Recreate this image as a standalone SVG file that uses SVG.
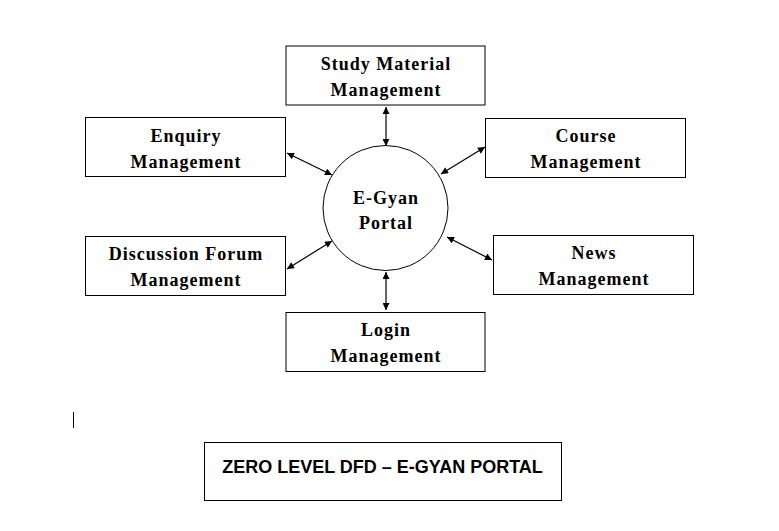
<svg xmlns="http://www.w3.org/2000/svg" width="779" height="531" viewBox="0 0 779 531">
<style>
.box{fill:#fff;stroke:#000;stroke-width:1}
.lbl{font-family:"Liberation Serif","Times New Roman",serif;font-weight:bold;font-size:18px;letter-spacing:1px;fill:#000;text-anchor:middle}
.ttl{font-family:"Liberation Sans",Arial,sans-serif;font-weight:bold;font-size:18px;fill:#000;text-anchor:middle}
.con{stroke:#000;stroke-width:1.2;fill:none;marker-start:url(#ah);marker-end:url(#ah)}
</style>
<defs>
<marker id="ah" viewBox="0 0 10 10" refX="10" refY="5" markerWidth="8" markerHeight="7" markerUnits="userSpaceOnUse" orient="auto-start-reverse">
<path d="M0,0 L10,5 L0,10 z" fill="#000"/>
</marker>
</defs>
<rect width="779" height="531" fill="#fff"/>
<g id="connectors">
<line class="con" x1="386" y1="107" x2="386" y2="146"/>
<line class="con" x1="386" y1="272" x2="386" y2="310"/>
<line class="con" x1="287" y1="153" x2="332" y2="175"/>
<line class="con" x1="287" y1="269" x2="332" y2="241"/>
<line class="con" x1="441" y1="174" x2="485" y2="147"/>
<line class="con" x1="447" y1="237" x2="492" y2="260"/>
</g>
<g id="portal">
<circle cx="385.5" cy="208" r="62.5" fill="#fff" stroke="#000" stroke-width="1"/>
<text class="lbl" x="386" y="204">E-Gyan</text>
<text class="lbl" x="386" y="229">Portal</text>
</g>
<g id="study">
<rect class="box" x="286" y="46" width="199" height="59"/>
<text class="lbl" x="386" y="70">Study Material</text>
<text class="lbl" x="386" y="96">Management</text>
</g>
<g id="enquiry">
<rect class="box" x="85.5" y="117.5" width="200" height="59"/>
<text class="lbl" x="186" y="142">Enquiry</text>
<text class="lbl" x="186" y="168">Management</text>
</g>
<g id="course">
<rect class="box" x="485.5" y="118.5" width="200" height="59"/>
<text class="lbl" x="586" y="142">Course</text>
<text class="lbl" x="586" y="168">Management</text>
</g>
<g id="discussion">
<rect class="box" x="85.5" y="236.5" width="200" height="59"/>
<text class="lbl" x="186" y="260">Discussion Forum</text>
<text class="lbl" x="186" y="286">Management</text>
</g>
<g id="news">
<rect class="box" x="493.5" y="235.5" width="200" height="59"/>
<text class="lbl" x="594" y="259">News</text>
<text class="lbl" x="594" y="285">Management</text>
</g>
<g id="login">
<rect class="box" x="286" y="312.5" width="199" height="59"/>
<text class="lbl" x="386" y="336">Login</text>
<text class="lbl" x="386" y="362">Management</text>
</g>
<line x1="73.5" y1="412" x2="73.5" y2="428" stroke="#000" stroke-width="1"/>
<g id="title">
<rect class="box" x="204.5" y="442.5" width="357" height="58"/>
<text class="ttl" x="382.5" y="473">ZERO LEVEL DFD – E-GYAN PORTAL</text>
</g>
</svg>
